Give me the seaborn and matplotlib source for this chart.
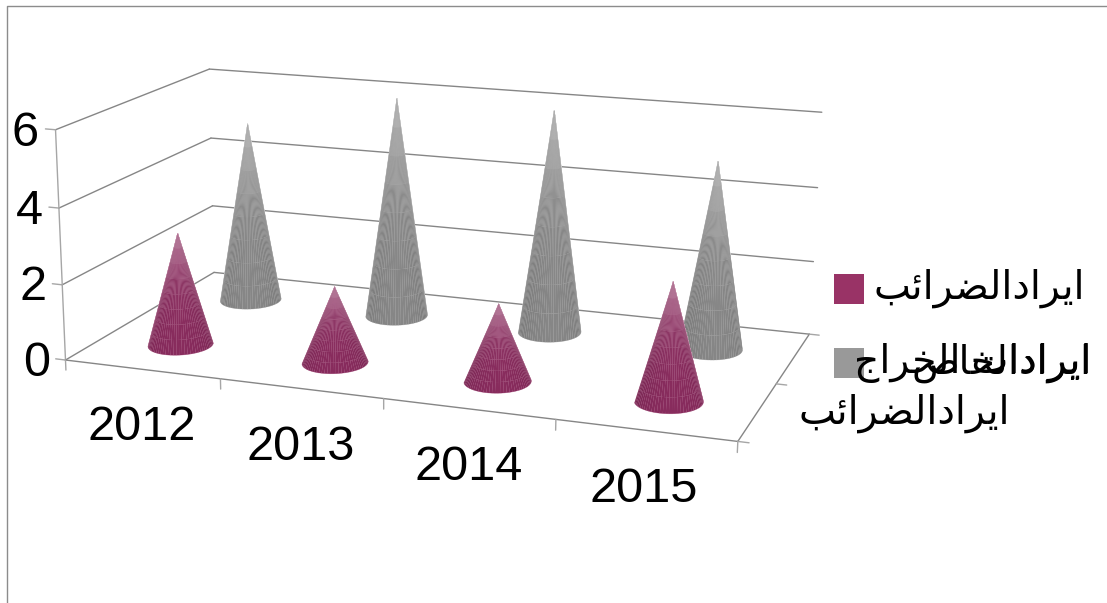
import numpy as np
import pandas as pd
import matplotlib
matplotlib.use("Agg")
import matplotlib.pyplot as plt
from matplotlib.lines import Line2D
from matplotlib.patches import Rectangle
from mpl_toolkits.mplot3d import Axes3D  # noqa: F401
import seaborn as sns

# ---------- data ----------
years = ["2012", "2013", "2014", "2015"]
series_front_name = "ايرادالضرائب"
series_back_name = "ايرادات الخراج"
series_back_axis_name = "ايرادالخاص"
front_values = [3, 2, 2, 3]
back_values = [5, 6, 6, 5]
z_ticks = [0, 2, 4, 6]

# ---------- style ----------
sns.set_theme(style="white")
plt.rcParams["font.family"] = ["Liberation Sans", "DejaVu Sans"]
front_color, back_color = sns.color_palette(["#8c2d60", "#8a8a8a"])
front_light, back_light = sns.color_palette(["#d3a0ba", "#d0d0d0"])
legend_front, legend_back = "#993366", "#999999"
GRID = "#868686"
W, H = 1107, 603
FS = 35

# tiny Arabic shaping, because matplotlib draws glyphs without joining them
FORMS = {"ا": "\ufe8d\ufe8e", "ب": "\ufe8f\ufe90\ufe91\ufe92", "ت": "\ufe95\ufe96\ufe97\ufe98",
         "ي": "\ufef1\ufef2\ufef3\ufef4", "ر": "\ufead\ufeae", "د": "\ufea9\ufeaa",
         "ل": "\ufedd\ufede\ufedf\ufee0", "ض": "\ufebd\ufebe\ufebf\ufec0", "ئ": "\ufe89\ufe8a\ufe8b\ufe8c",
         "خ": "\ufea5\ufea6\ufea7\ufea8", "ج": "\ufe9d\ufe9e\ufe9f\ufea0", "ص": "\ufeb9\ufeba\ufebb\ufebc",
         "ن": "\ufee5\ufee6\ufee7\ufee8"}
def shape(s):
    out = []
    for i, c in enumerate(s):
        if c not in FORMS:
            out.append(c); continue
        f = FORMS[c]
        prev_joins = i > 0 and s[i-1] in FORMS and len(FORMS[s[i-1]]) == 4
        next_joins = i + 1 < len(s) and s[i+1] in FORMS
        if len(f) == 2:
            out.append(f[1] if prev_joins else f[0])
        else:
            out.append(f[3] if prev_joins and next_joins else f[2] if next_joins else f[1] if prev_joins else f[0])
    return "".join(reversed(out))

fig = plt.figure(figsize=(W/100, H/100), dpi=100, facecolor="white")
ax = fig.add_axes([0, 0, 1, 1], projection="3d", computed_zorder=False)
ax.apply_aspect = lambda position=None: None
ax.set_axis_off()
ax.set_position([0, 0, 1, 1])
ax.patch.set_visible(False)
ax.set_proj_type("ortho")

# camera fitted to the chart box: box coordinate -> picture pixel
box = [((0,0,0),(66,360)), ((4,0,0),(738,441)), ((0,2,0),(214,272)), ((4,2,0),(808,335)),
       ((0,0,2),(62,285)), ((0,0,4),(58,208)), ((0,0,6),(56,130)),
       ((0,2,2),(212,206)), ((0,2,4),(212,138)), ((0,2,6),(209,69)),
       ((4,2,2),(815,262)), ((4,2,4),(818,186)), ((4,2,6),(821,113))]
A = []
for (x, y, z), (u, v) in box:
    A.append([x, y, z, 1, 0, 0, 0, 0, -u*x, -u*y, -u*z, -u])
    A.append([0, 0, 0, 0, x, y, z, 1, -v*x, -v*y, -v*z, -v])
P = np.linalg.svd(np.array(A, float))[2][-1].reshape(3, 4)
P = P / P[2, 3]

def get_proj():
    vl = ax.viewLim
    to2d = np.array([[(vl.x1-vl.x0)/W, 0, vl.x0], [0, -(vl.y1-vl.y0)/H, vl.y1], [0, 0, 1]])
    Q = to2d @ P
    return np.array([Q[0], Q[1], [-0.01, 1, 0, 2], Q[2]])
ax.get_proj = get_proj

def seg(a, b, **kw):
    ax.plot([a[0], b[0]], [a[1], b[1]], [a[2], b[2]], color=kw.pop("color", GRID), lw=kw.pop("lw", 1.0), zorder=1, **kw)

for z in z_ticks:
    seg((0, 0, z), (0, 2, z))
    seg((0, 2, z), (4, 2, z))
    seg((-0.065, 0, z), (0, 0, z), color="#a6a6a6")
seg((0, 0, 0), (0, 0, 6), color="#a6a6a6")
seg((0, 0, 0), (4, 0, 0))
seg((4, 0, 0), (4, 2, 0))
for x in range(5):
    seg((x, 0, 0), (x, 0, -0.27), color="#a6a6a6")
for y in range(3):
    seg((4, y, 0), (4.06, y, 0), color="#a6a6a6")

def cone(x0, y0, h, color, light, zorder):
    # visible half of the cone, as a fan of slices with a paler cone under it
    t0 = np.deg2rad(26)
    t = np.linspace(t0-np.pi, t0, 37)
    s = np.linspace(0, 1, 9)
    T, S = np.meshgrid(t, s)
    X = x0 + 0.19*(1-S)*np.cos(T)
    Y = y0 + 0.21*(1-S)*np.sin(T)
    Z = h*S
    ax.plot_surface(X[[0, -1]], Y[[0, -1]], Z[[0, -1]], color=light, edgecolor=light, linewidth=0.4,
                    rstride=1, cstride=1, antialiased=True, shade=False, zorder=zorder)
    tm = (t[:-1]+t[1:])/2
    sm = (s[:-1]+s[1:])/2
    u = (tm-t0+np.pi)/np.pi
    side = 0.97 - 0.12*np.abs(2*u-1)**2
    shade = np.outer(0.30*sm**3, np.ones(len(tm)))
    base = np.outer(np.ones(len(sm)), side)[..., None]*np.array(color)
    fc = base + shade[..., None]*(1-np.array(color))
    fc = np.clip(np.dstack([fc, np.ones(fc.shape[:2])]), 0, 1)
    ax.plot_surface(X, Y, Z, facecolors=fc, rstride=1, cstride=1, linewidth=0,
                    antialiased=True, shade=False, zorder=zorder+0.5)

df = pd.DataFrame({"year": years*2,
                   "series": ["back"]*4 + ["front"]*4,
                   "value": back_values + front_values})
for _, row in df[df.series == "back"].iterrows():
    cone(years.index(row.year)+0.5, 1.5, row.value, back_color, back_light, 2)
for _, row in df[df.series == "front"].iterrows():
    cone(years.index(row.year)+0.5, 0.5, row.value, front_color, front_light, 3)

def ptext(px, py, s, ha="center", va="center", size=FS):
    fig.text(px/W, 1-py/H, s, ha=ha, va=va, fontsize=size, color="black")

for z, py in zip(z_ticks, [363, 288, 212, 133]):
    ptext({0: 50, 2: 47, 4: 43, 6: 39}[z], py, str(z), ha="right")
for y, (px, py) in zip(years, [(142, 428), (301, 447), (469, 467), (644, 490)]):
    ptext(px, py, y)

AR = 28.3
ptext(1085, 288, shape(series_front_name), ha="right", size=AR)
ptext(1010, 413, shape(series_front_name), ha="right", size=AR)
ptext(1092, 363, shape(series_back_name), ha="right", size=AR)
ptext(1092, 363, shape(series_back_axis_name), ha="right", size=AR)

fig.add_artist(Rectangle((834/W, 1-304/H), 30/W, 30/H, transform=fig.transFigure, fc=legend_front, ec="none"))
fig.add_artist(Rectangle((834/W, 1-378/H), 30/W, 30/H, transform=fig.transFigure, fc=legend_back, ec="none"))
fig.add_artist(Line2D([6.5/W, 6.5/W, 1], [0, 1-5.5/H, 1-5.5/H], transform=fig.transFigure, color="#8c8c8c", lw=1))

fig.savefig("out.png", dpi=100, facecolor="white")
